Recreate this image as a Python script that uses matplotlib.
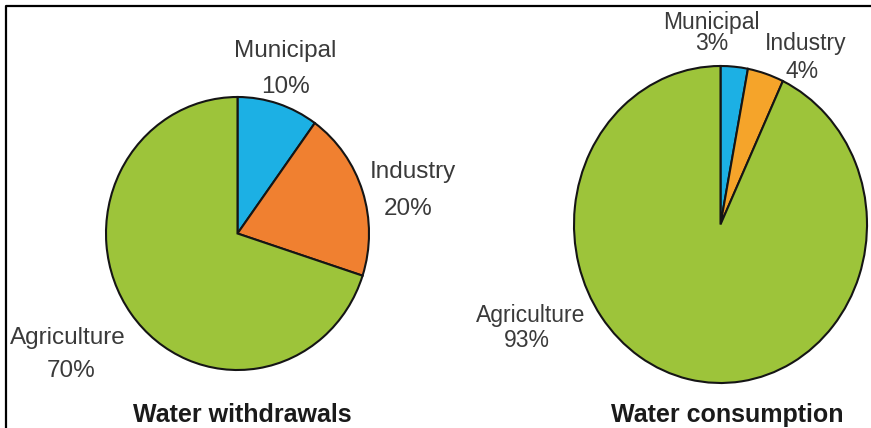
import matplotlib
matplotlib.use("Agg")
import matplotlib.pyplot as plt
from matplotlib.lines import Line2D

plt.rcParams['font.family'] = ['Liberation Sans', 'DejaVu Sans']

# data
categories = ["Municipal", "Industry", "Agriculture"]
withdrawals = [10, 20, 70]
consumption = [3, 4, 93]
titles = ["Water withdrawals", "Water consumption"]

W, H = 871, 428
fig = plt.figure(figsize=(W / 100, H / 100), dpi=100)
fig.patch.set_facecolor("white")


def px(x, y):
    # pixel coords (from top-left) -> figure fraction
    return x / W, 1 - y / H


def pie_axes(x0, x1, y0, y1):
    ax = fig.add_axes([x0 / W, 1 - y1 / H, (x1 - x0) / W, (y1 - y0) / H])
    return ax


green = "#9dc43a"
blue = "#1cb0e4"
edge = dict(edgecolor="#151515", linewidth=1.5)

# left pie
ax1 = pie_axes(106, 369, 97, 370)
w1, _ = ax1.pie(withdrawals, colors=[blue, "#f08030", green], startangle=90,
                counterclock=False, radius=1, frame=True, wedgeprops=edge)

# right pie
ax2 = pie_axes(574, 867, 66, 383)
w2, _ = ax2.pie(consumption, colors=[blue, "#f5a42a", green], startangle=90,
                counterclock=False, radius=1, frame=True, wedgeprops=edge)

for ax, wedges in [(ax1, w1), (ax2, w2)]:
    ax.set_xlim(-1, 1)
    ax.set_ylim(-1, 1)
    ax.set_aspect("auto")
    ax.axis("off")
    for w in wedges:
        w.set_clip_on(False)

lab = "#3a3a3a"


def label(x, y, s, size):
    fig.text(*px(x, y), s, ha="center", va="baseline", fontsize=size, color=lab)


# left labels
label(285, 57, categories[0], 17.5)
label(285, 93, f"{withdrawals[0]}%", 17.5)
label(413, 178, categories[1], 17.5)
label(408, 215, f"{withdrawals[1]}%", 17.5)
label(68, 344, categories[2], 17.5)
label(71, 377, f"{withdrawals[2]}%", 17.5)

# right labels
label(711, 29, categories[0], 16.5)
label(712, 50, f"{consumption[0]}%", 16.5)
label(806, 50, categories[1], 16.5)
label(802, 78, f"{consumption[1]}%", 16.5)
label(531, 322, categories[2], 16.5)
label(527, 347, f"{consumption[2]}%", 16.5)

# titles
fig.text(*px(242, 422), titles[0], ha="center", va="baseline",
         fontsize=18, fontweight="bold", color="#1a1a1a")
fig.text(*px(727, 422), titles[1], ha="center", va="baseline",
         fontsize=18, fontweight="bold", color="#1a1a1a")

# frame (only top and left edge visible)
fig.add_artist(Line2D([6 / W, 6 / W, 1], [0, 1 - 6 / H, 1 - 6 / H],
                      transform=fig.transFigure, color="black", linewidth=1.6))

fig.savefig("out.png", dpi=100)
